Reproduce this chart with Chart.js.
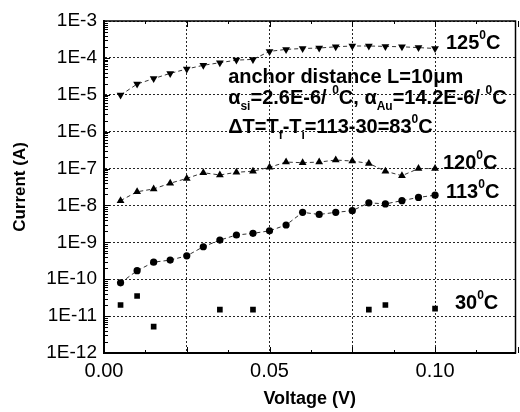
<!DOCTYPE html>
<html><head><meta charset="utf-8">
<script src="https://cdn.jsdelivr.net/npm/chart.js@4"></script>
<style>html,body{margin:0;padding:0;background:#fff}#wrap{width:520px;height:412px;position:relative}</style>
</head><body><div id="wrap"><canvas id="c" width="520" height="412"></canvas></div>
<script>
// ---- data ----
const voltages = [0.005,0.010,0.015,0.020,0.025,0.030,0.035,0.040,0.045,0.050,0.055,0.060,0.065,0.070,0.075,0.080,0.085,0.090,0.095,0.100];
const current125 = [9.8e-6,1.95e-5,2.75e-5,3.8e-5,5.0e-5,6.3e-5,7.4e-5,8.7e-5,9.1e-5,1.5e-4,1.7e-4,1.8e-4,1.85e-4,2.0e-4,2.1e-4,2.1e-4,2.05e-4,2.0e-4,1.9e-4,1.8e-4];
const current120 = [1.35e-8,2.35e-8,2.8e-8,4.0e-8,5.4e-8,7.7e-8,6.7e-8,7.9e-8,8.5e-8,1.08e-7,1.5e-7,1.44e-7,1.5e-7,1.7e-7,1.6e-7,1.38e-7,8.5e-8,6.4e-8,1.0e-7,1.0e-7];
const current113 = [8.0e-11,1.7e-10,2.9e-10,3.3e-10,4.3e-10,7.6e-10,1.15e-9,1.58e-9,1.75e-9,2.05e-9,2.95e-9,6.5e-9,5.7e-9,6.5e-9,7.2e-9,1.18e-8,1.1e-8,1.35e-8,1.65e-8,1.9e-8];
const current30  = [2.0e-11,3.5e-11,5.2e-12,null,null,null,1.5e-11,null,1.5e-11,null,null,null,null,null,null,1.5e-11,2.0e-11,null,null,1.6e-11];
const yTickExponents = [-12,-11,-10,-9,-8,-7,-6,-5,-4,-3];
const xTickValues = [0,0.025,0.05,0.075,0.10];
const xTickLabels = ['0.00','','0.05','','0.10'];
const seriesNames = ['125°C','120°C','113°C','30°C'];

function pts(arr){ const out=[]; arr.forEach((v,i)=>{ if(v!==null) out.push({x:voltages[i],y:v}); }); return out; }

const FONT = '"Liberation Sans", Arial, sans-serif';

// annotation texts (segments: n normal, sup superscript, sub subscript)
const annotations = [
  {x:0.1033, e:-3.60, segs:[['125'],['0','sup'],['C']]},
  {x:0.0375, e:-4.52, segs:[['anchor distance L=10μm']]},
  {x:0.0375, e:-5.09, segs:[['α'],['si','sub'],['=2.6E-6/ '],['0','sup'],['C, α'],['Au','sub'],['=14.2E-6/ '],['0','sup'],['C']]},
  {x:0.0375, e:-5.88, segs:[['ΔT=T'],['f','sub'],['-T'],['i','sub'],['=113-30=83'],['0','sup'],['C']]},
  {x:0.1024, e:-6.85, segs:[['120'],['0','sup'],['C']]},
  {x:0.1033, e:-7.64, segs:[['113'],['0','sup'],['C']]},
  {x:0.1060, e:-10.645, segs:[['30'],['0','sup'],['C']]}
];

const decorPlugin = {
  id:'decor',
  afterDraw(chart){
    const {ctx, chartArea:a, scales:{x,y}} = chart;
    ctx.save();
    // frame
    ctx.strokeStyle='#000'; ctx.lineWidth=1.5;
    ctx.strokeRect(a.left, a.top, a.right-a.left, a.bottom-a.top);
    // inward ticks on left axis
    ctx.lineWidth=1;
    for(let d=-12; d<-3; d++){
      for(let m=1; m<10; m++){
        const py = Math.round(y.getPixelForValue(m*Math.pow(10,d)))+0.5;
        const len = m===1?6:4;
        ctx.beginPath(); ctx.moveTo(a.left, py); ctx.lineTo(a.left+len, py); ctx.stroke();
      }
    }
    // inward ticks on bottom/top axis
    for(let v=0; v<=0.1251; v+=0.0125){
      const px = Math.round(x.getPixelForValue(v))+0.5;
      const len = (Math.abs((v/0.025)-Math.round(v/0.025))<1e-6)?6:3;
      ctx.beginPath(); ctx.moveTo(px, a.bottom); ctx.lineTo(px, a.bottom-len); ctx.stroke();
      ctx.beginPath(); ctx.moveTo(px, a.top); ctx.lineTo(px, a.top+len); ctx.stroke();
    }
    // annotations
    ctx.fillStyle='#000'; ctx.textBaseline='middle'; ctx.textAlign='left';
    const fs = 20;
    annotations.forEach(an=>{
      let px = x.getPixelForValue(an.x);
      const py = y.getPixelForValue(Math.pow(10,an.e));
      an.segs.forEach(([t,k])=>{
        if(k==='sup'){ ctx.font='bold '+Math.round(fs*0.6)+'px '+FONT; ctx.fillText(t,px,py-fs*0.38); }
        else if(k==='sub'){ ctx.font='bold '+Math.round(fs*0.6)+'px '+FONT; ctx.fillText(t,px,py+fs*0.42); }
        else { ctx.font='bold '+fs+'px '+FONT; ctx.fillText(t,px,py); }
        px += ctx.measureText(t).width;
      });
    });
    ctx.restore();
  }
};

const lineCommon = {showLine:true, borderColor:'#333', borderWidth:1, borderDash:[4,3], pointBackgroundColor:'#000', pointBorderColor:'#000', pointBorderWidth:0};

new Chart(document.getElementById('c'), {
  type:'scatter',
  data:{datasets:[
    Object.assign({label:seriesNames[0], data:pts(current125), pointStyle:'triangle', rotation:180, pointRadius:4.5}, lineCommon),
    Object.assign({label:seriesNames[1], data:pts(current120), pointStyle:'triangle', pointRadius:4.5}, lineCommon),
    Object.assign({label:seriesNames[2], data:pts(current113), pointStyle:'circle', pointRadius:3.6}, lineCommon),
    {label:seriesNames[3], data:pts(current30), showLine:false, pointStyle:'rect', pointRadius:4, pointBackgroundColor:'#000', pointBorderColor:'#000', pointBorderWidth:0}
  ]},
  options:{
    responsive:false, animation:false,
    layout:{padding:{top:21,right:2,left:0,bottom:0}},
    plugins:{legend:{display:false}, tooltip:{enabled:false}},
    scales:{
      x:{type:'linear', min:0, max:0.1243,
        afterBuildTicks:s=>{ s.ticks = xTickValues.map(v=>({value:v})); },
        afterFit:s=>{ s.height = 59; },
        ticks:{autoSkip:false, maxRotation:0, padding:6, color:'#000', font:{family:FONT,size:20},
          callback:(v,i)=>xTickLabels[i]},
        grid:{drawTicks:false, color:'rgba(0,0,0,0.85)', lineWidth:1},
        border:{display:true, color:'#000', width:2, dash:[2,2]},
        title:{display:true, text:'Voltage (V)', color:'#000', font:{family:FONT,size:18,weight:'bold'}, padding:{top:0,bottom:2}}
      },
      y:{type:'logarithmic', min:1e-12, max:1e-3,
        afterBuildTicks:s=>{ s.ticks = yTickExponents.map(e=>({value:Math.pow(10,e)})); },
        afterFit:s=>{ s.width = 104; },
        ticks:{autoSkip:false, padding:7, color:'#000', font:{family:FONT,size:19},
          callback:(v,i)=>'1E'+yTickExponents[i]},
        grid:{drawTicks:false, color:'rgba(0,0,0,0.85)', lineWidth:1},
        border:{display:true, color:'#000', width:2, dash:[2,2]},
        title:{display:true, text:'Current (A)', color:'#000', font:{family:FONT,size:17,weight:'bold'}, padding:{top:10,bottom:0}}
      }
    }
  },
  plugins:[decorPlugin]
});
</script></body></html>
